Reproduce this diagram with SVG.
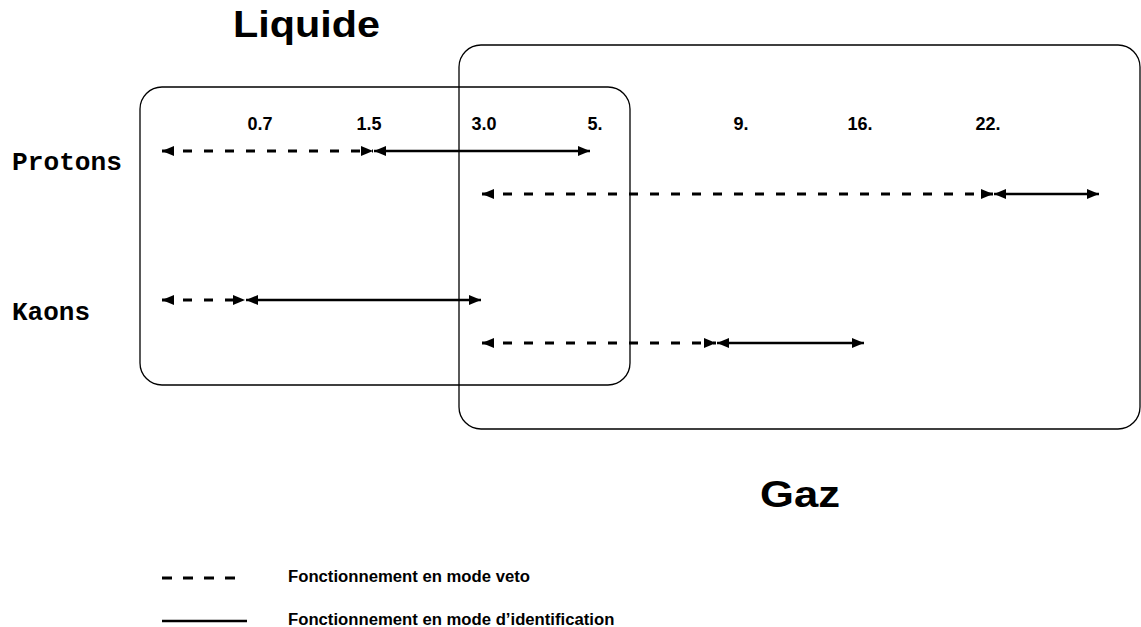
<svg xmlns="http://www.w3.org/2000/svg" width="1141" height="627" viewBox="0 0 1141 627">
<style>
.box{fill:none;stroke:#000;stroke-width:1.3}
.dash{stroke:#000;stroke-width:2.8;stroke-dasharray:9 12;fill:none}
.solid{stroke:#000;stroke-width:2.6;fill:none}
.num{font-family:"Liberation Sans",Arial,sans-serif;font-weight:bold;font-size:18px;text-anchor:middle}
.big{font-family:"Liberation Sans",Arial,sans-serif;font-weight:bold;font-size:37px}
.part{font-family:"Liberation Mono","Courier New",monospace;font-weight:bold;font-size:25px}
.leg{font-family:"Liberation Sans",Arial,sans-serif;font-weight:bold;font-size:16.7px}
</style>
<defs>
<marker id="ah" viewBox="0 0 12 10" refX="12" refY="5" markerWidth="12" markerHeight="10" markerUnits="userSpaceOnUse" orient="auto-start-reverse">
<path d="M0,0 L12,5 L0,10 z" fill="#000"/>
</marker>
</defs>
<g id="liquide">
<rect class="box" x="140" y="87" width="490" height="298" rx="22"/>
<text class="big" x="233" y="37" textLength="147" lengthAdjust="spacingAndGlyphs">Liquide</text>
</g>
<g id="gaz">
<rect class="box" x="459" y="45" width="681" height="384" rx="22"/>
<text class="big" x="760" y="507" textLength="80" lengthAdjust="spacingAndGlyphs">Gaz</text>
</g>
<g id="labels">
<text class="num" x="260" y="130">0.7</text>
<text class="num" x="369" y="130">1.5</text>
<text class="num" x="484" y="130">3.0</text>
<text class="num" x="595" y="130">5.</text>
<text class="num" x="741" y="130">9.</text>
<text class="num" x="860" y="130">16.</text>
<text class="num" x="988" y="130">22.</text>
<text class="part" x="12" y="170" textLength="110" lengthAdjust="spacingAndGlyphs">Protons</text>
<text class="part" x="12" y="320" textLength="78" lengthAdjust="spacingAndGlyphs">Kaons</text>
</g>
<g id="connectors">
<line class="dash" x1="162" y1="151" x2="373" y2="151" marker-start="url(#ah)" marker-end="url(#ah)"/>
<line class="solid" x1="374" y1="151" x2="590" y2="151" marker-start="url(#ah)" marker-end="url(#ah)"/>
<line class="dash" x1="482" y1="194" x2="993" y2="194" marker-start="url(#ah)" marker-end="url(#ah)"/>
<line class="solid" x1="994" y1="194" x2="1099" y2="194" marker-start="url(#ah)" marker-end="url(#ah)"/>
<line class="dash" x1="162" y1="300" x2="245" y2="300" marker-start="url(#ah)" marker-end="url(#ah)"/>
<line class="solid" x1="246" y1="300" x2="481" y2="300" marker-start="url(#ah)" marker-end="url(#ah)"/>
<line class="dash" x1="482" y1="343" x2="716" y2="343" marker-start="url(#ah)" marker-end="url(#ah)"/>
<line class="solid" x1="717" y1="343" x2="864" y2="343" marker-start="url(#ah)" marker-end="url(#ah)"/>
</g>
<g id="legend">
<line class="dash" x1="162" y1="578" x2="236" y2="578" style="stroke-dasharray:10 11"/>
<line class="solid" x1="162" y1="621" x2="247" y2="621"/>
<text class="leg" x="288" y="582">Fonctionnement en mode veto</text>
<text class="leg" x="288" y="625">Fonctionnement en mode d’identification</text>
</g>
</svg>
